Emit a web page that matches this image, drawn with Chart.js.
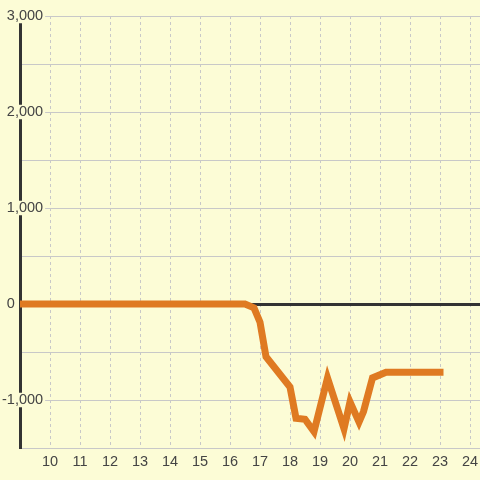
<!DOCTYPE html>
<html>
<head>
<meta charset="utf-8">
<script src="https://cdn.jsdelivr.net/npm/chart.js@4"></script>
<style>
  html, body { margin: 0; padding: 0; background: #fcfcd6; }
  #wrap { width: 480px; height: 480px; }
</style>
</head>
<body>
<div id="wrap"><canvas id="lossChart" width="480" height="480"></canvas></div>
<script>
// values
var xValues = [9, 16.5, 16.8, 17.0, 17.2, 18.0, 18.2, 18.5, 18.8, 19.25, 19.8, 20.0, 20.3, 20.45, 20.75, 21.2, 23];
var yValues = [0, 0, -40, -190, -550, -865, -1190, -1200, -1330, -770, -1300, -1020, -1230, -1120, -770, -710, -710];
var xTicks = [10, 11, 12, 13, 14, 15, 16, 17, 18, 19, 20, 21, 22, 23, 24];
var yTicks = [-1500, -1000, -500, 0, 500, 1000, 1500, 2000, 2500, 3000];

var points = xValues.map(function (x, i) { return { x: x, y: yValues[i] }; });
var font = { family: "'Liberation Sans', Arial, sans-serif", size: 14.5, lineHeight: 1 };

var ctx = document.getElementById('lossChart').getContext('2d');

var chartOptions = {
    responsive: false,
    animation: false,
    layout: { padding: { top: 16, left: 0, right: 0, bottom: 0 } },
    scales: {
        x: {
            type: 'linear',
            min: 9,
            max: 24.333,
            afterBuildTicks: function (scale) {
                scale.ticks = xTicks.map(function (v) { return { value: v }; });
            },
            afterFit: function (scale) {
                scale.height = 32;
                scale.paddingLeft = 0;
                scale.paddingRight = 0;
            },
            border: { display: false, dash: [3, 3] },
            grid: {
                color: '#c8c8c8',
                lineWidth: 1,
                drawTicks: false
            },
            ticks: {
                color: '#444',
                font: font,
                padding: 7,
                maxRotation: 0,
                autoSkip: false
            }
        },
        y: {
            min: -1500,
            max: 3000,
            afterBuildTicks: function (scale) {
                scale.ticks = yTicks.map(function (v) { return { value: v }; });
            },
            afterFit: function (scale) {
                scale.width = 20;
                scale.paddingTop = 0;
                scale.paddingBottom = 0;
            },
            border: { color: '#333', width: 3 },
            grid: {
                color: function (c) { return c.tick && c.tick.value === 0 ? '#333' : '#c8c8c8'; },
                lineWidth: function (c) { return c.tick && c.tick.value === 0 ? 3 : 1; },
                drawTicks: false
            },
            ticks: {
                color: '#444',
                font: font,
                mirror: true,          // labels sit over the plot, right edge near x=43
                crossAlign: 'far',
                padding: -18,
                autoSkip: false,
                callback: function (value) {
                    if (value === 0) return '0       ';  // zero label sits left of the axis
                    if (value % 1000 !== 0) return '';
                    return value.toLocaleString('en-US');
                },
                showLabelBackdrop: function (c) {
                    return c.tick && c.tick.value % 1000 === 0 && c.tick.value !== 0;
                },
                backdropColor: '#fcfcd6',
                backdropPadding: { top: 0, bottom: 0, left: 2, right: 2 }
            }
        }
    },
    plugins: {
        legend: { display: false },
        tooltip: { enabled: false }
    }
};

var myChart = new Chart(ctx, {
    type: 'line',
    data: {
        datasets: [{
            data: points,
            borderColor: '#df7a22',
            borderWidth: 7,
            borderCapStyle: 'square',
            borderJoinStyle: 'miter',
            tension: 0,
            pointRadius: 0,
            fill: false
        }]
    },
    options: chartOptions
});
</script>
</body>
</html>
